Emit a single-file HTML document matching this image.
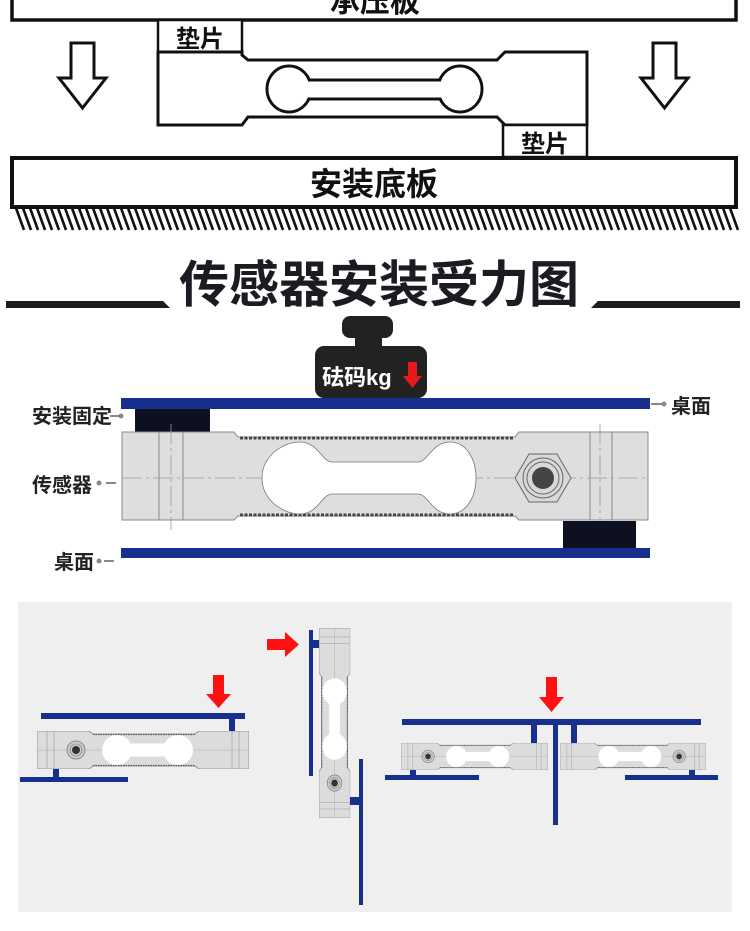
<!DOCTYPE html>
<html><head><meta charset="utf-8"><style>
html,body{margin:0;padding:0;background:#fff;width:750px;height:931px;overflow:hidden}
svg{display:block}
text{font-family:"Liberation Sans","Noto Sans CJK SC",sans-serif;font-weight:bold}
</style></head><body>
<svg width="750" height="931" viewBox="0 0 750 931" xmlns="http://www.w3.org/2000/svg">
<defs>
<symbol id="sen" viewBox="0 0 212 38" preserveAspectRatio="none">
  <path d="M0 0H52L56 3H158L162 0H212V38H162L158 35H56L52 38H0Z" fill="#dcdcdc" stroke="#888" stroke-width="0.8"/>
  <path d="M56 3.5H158M56 34.5H158" stroke="#555" stroke-width="1.2" stroke-dasharray="1.5 1"/>
  <line x1="10" y1="0" x2="10" y2="38" stroke="#999" stroke-width="0.6"/>
  <line x1="17" y1="0" x2="17" y2="38" stroke="#999" stroke-width="0.6"/>
  <line x1="195" y1="0" x2="195" y2="38" stroke="#999" stroke-width="0.6"/>
  <line x1="202" y1="0" x2="202" y2="38" stroke="#999" stroke-width="0.6"/>
  <line x1="0" y1="19" x2="212" y2="19" stroke="#aaa" stroke-width="0.5"/>
  <ellipse cx="80" cy="19" rx="15" ry="15" fill="#fff"/>
  <ellipse cx="141" cy="19" rx="15" ry="15" fill="#fff"/>
  <rect x="80" y="12.5" width="61" height="13" fill="#fff"/>
  <circle cx="39" cy="19" r="9" fill="#ccc" stroke="#777" stroke-width="0.8"/>
  <circle cx="39" cy="19" r="6" fill="none" stroke="#777" stroke-width="0.6"/>
  <circle cx="39" cy="19" r="4" fill="#333"/>
</symbol>
</defs>

<!-- TOP SECTION -->
<rect x="12" y="-10" width="724" height="30" fill="#fff" stroke="#111" stroke-width="3.5"/>
<text x="375" y="12" font-size="30" text-anchor="middle" fill="#111">承压板</text>
<rect x="158" y="20" width="84" height="32" fill="#fff" stroke="#111" stroke-width="2.5"/>
<text x="200" y="47" font-size="24" text-anchor="middle" fill="#111">垫片</text>
<path d="M158 52H242V55L248 60H497L505 52H587V125H505L497 117H248L242 125H158Z" fill="#fff" stroke="#111" stroke-width="3"/>
<g stroke="#111" stroke-width="3" fill="#fff">
<ellipse cx="289" cy="89" rx="22" ry="23"/>
<ellipse cx="460" cy="89" rx="22" ry="23"/>
<rect x="300" y="80" width="150" height="19"/>
</g>
<g fill="#fff"><ellipse cx="289" cy="89" rx="20.5" ry="21.5"/><ellipse cx="460" cy="89" rx="20.5" ry="21.5"/><rect x="295" y="81.5" width="160" height="16"/></g>
<rect x="503" y="125" width="84" height="32" fill="#fff" stroke="#111" stroke-width="2.5"/>
<text x="545" y="152" font-size="24" text-anchor="middle" fill="#111">垫片</text>
<path d="M71 43H94V78H106L82.5 108L59 78H71Z" fill="#fff" stroke="#111" stroke-width="3" stroke-linejoin="miter"/>
<path d="M653 43H676V78H688L664.5 108L641 78H653Z" fill="#fff" stroke="#111" stroke-width="3"/>
<rect x="12" y="158" width="724" height="49" fill="#fff" stroke="#111" stroke-width="4"/>
<text x="374" y="195" font-size="32" text-anchor="middle" fill="#111">安装底板</text>
<g stroke="#111" stroke-width="2.6">
<path d="M16 208l8 22M23 208l8 22M30 208l8 22M37 208l8 22M44 208l8 22M51 208l8 22M58 208l8 22M65 208l8 22M72 208l8 22M79 208l8 22M86 208l8 22M93 208l8 22M100 208l8 22M107 208l8 22M114 208l8 22M121 208l8 22M128 208l8 22M135 208l8 22M142 208l8 22M149 208l8 22M156 208l8 22M163 208l8 22M170 208l8 22M177 208l8 22M184 208l8 22M191 208l8 22M198 208l8 22M205 208l8 22M212 208l8 22M219 208l8 22M226 208l8 22M233 208l8 22M240 208l8 22M247 208l8 22M254 208l8 22M261 208l8 22M268 208l8 22M275 208l8 22M282 208l8 22M289 208l8 22M296 208l8 22M303 208l8 22M310 208l8 22M317 208l8 22M324 208l8 22M331 208l8 22M338 208l8 22M345 208l8 22M352 208l8 22M359 208l8 22M366 208l8 22M373 208l8 22M380 208l8 22M387 208l8 22M394 208l8 22M401 208l8 22M408 208l8 22M415 208l8 22M422 208l8 22M429 208l8 22M436 208l8 22M443 208l8 22M450 208l8 22M457 208l8 22M464 208l8 22M471 208l8 22M478 208l8 22M485 208l8 22M492 208l8 22M499 208l8 22M506 208l8 22M513 208l8 22M520 208l8 22M527 208l8 22M534 208l8 22M541 208l8 22M548 208l8 22M555 208l8 22M562 208l8 22M569 208l8 22M576 208l8 22M583 208l8 22M590 208l8 22M597 208l8 22M604 208l8 22M611 208l8 22M618 208l8 22M625 208l8 22M632 208l8 22M639 208l8 22M646 208l8 22M653 208l8 22M660 208l8 22M667 208l8 22M674 208l8 22M681 208l8 22M688 208l8 22M695 208l8 22M702 208l8 22M709 208l8 22M716 208l8 22M723 208l8 22M730 208l8 22"/>
</g>

<!-- TITLE -->
<path d="M6 301H163L170 308H6Z" fill="#1a1c22"/>
<path d="M598 301H740V308H591Z" fill="#1a1c22"/>
<text x="379" y="302" font-size="50" text-anchor="middle" fill="#1a1c22" font-weight="900">传感器安装受力图</text>

<!-- MIDDLE SECTION -->
<rect x="342" y="316" width="51" height="22" rx="8" fill="#222"/>
<rect x="355" y="334" width="27" height="15" fill="#222"/>
<rect x="315" y="346" width="112" height="52" rx="9" fill="#222"/>
<text x="322" y="385" font-size="22" fill="#fff">砝码kg</text>
<path d="M408 362H417V376H422L412.5 388L403 376H408Z" fill="#e8191b"/>
<rect x="121" y="398" width="529" height="11" fill="#17308e"/>
<rect x="135" y="409" width="75" height="24" fill="#0c1020"/>
<path d="M122 432H234L238 437H515L519 432H648V520H519L515 516H238L234 520H122Z" fill="#dedede" stroke="#888" stroke-width="1"/>
<path d="M240 438H514M240 515H514" stroke="#444" stroke-width="3" stroke-dasharray="3 1.5"/>
<g stroke="#888" stroke-width="1"><line x1="159" y1="432" x2="159" y2="520"/><line x1="183" y1="432" x2="183" y2="520"/><line x1="590" y1="432" x2="590" y2="520"/><line x1="612" y1="432" x2="612" y2="520"/></g>
<g stroke="#999" stroke-width="0.8" stroke-dasharray="20 4 3 4"><line x1="122" y1="478" x2="648" y2="478"/><line x1="171" y1="424" x2="171" y2="530"/><line x1="600" y1="424" x2="600" y2="530"/></g>
<path d="M300 442C318 442 322 462 332 462H418C428 462 432 442 450 442C467 442 476 460 476 478C476 496 467 514 450 514C432 514 428 494 418 494H332C322 494 318 514 300 514C283 514 262 500 262 478C262 456 283 442 300 442Z" fill="#fff" stroke="#777" stroke-width="0.8"/>
<polygon points="529,454 557,454 571,478 557,502 529,502 515,478" fill="#d8d8d8" stroke="#666" stroke-width="1"/>
<circle cx="543" cy="478" r="20" fill="none" stroke="#666" stroke-width="1"/>
<circle cx="543" cy="478" r="16" fill="none" stroke="#666" stroke-width="1"/>
<circle cx="543" cy="478" r="11" fill="#444"/>
<rect x="563" y="521" width="73" height="27" fill="#0c1020"/>
<rect x="121" y="548" width="529" height="10" fill="#17308e"/>
<g stroke="#888" stroke-width="2"><line x1="651" y1="404" x2="664" y2="404"/><line x1="120" y1="416" x2="110" y2="416"/><line x1="106" y1="483" x2="116" y2="483"/><line x1="104" y1="561" x2="114" y2="561"/></g>
<g fill="#888"><circle cx="664" cy="404" r="2.5"/><circle cx="121" cy="416" r="2.5"/><circle cx="99" cy="483" r="2.5"/><circle cx="99" cy="561" r="2.5"/></g>
<g font-size="20" fill="#222">
<text x="671" y="413">桌面</text>
<text x="32" y="423">安装固定</text>
<text x="32" y="492">传感器</text>
<text x="54" y="569">桌面</text>
</g>

<!-- BOTTOM SECTION -->
<rect x="18" y="602" width="714" height="310" fill="#efefef"/>
<rect x="41" y="713" width="204" height="6" fill="#17308e"/>
<rect x="229" y="719" width="6" height="12" fill="#17308e"/>
<use href="#sen" x="37" y="731" width="212" height="38"/>
<rect x="53" y="769" width="6" height="8" fill="#17308e"/>
<rect x="20" y="777" width="108" height="5" fill="#17308e"/>
<path d="M213 675H224V694H231L218.5 708L206 694H213Z" fill="#f11"/>

<use href="#sen" x="0" y="0" width="212" height="38" transform="translate(319,818) rotate(-90) scale(0.896,0.82)"/>
<rect x="309" y="630" width="4" height="146" fill="#17308e"/>
<rect x="313" y="640" width="6" height="8" fill="#17308e"/>
<rect x="359" y="759" width="4" height="146" fill="#17308e"/>
<rect x="350" y="797" width="9" height="8" fill="#17308e"/>
<path d="M267 639H285V632L299 644.5L285 657V650H267Z" fill="#f11"/>

<rect x="402" y="719" width="299" height="6" fill="#17308e"/>
<rect x="553" y="725" width="5" height="100" fill="#17308e"/>
<rect x="531" y="725" width="6" height="19" fill="#17308e"/>
<rect x="571" y="725" width="6" height="19" fill="#17308e"/>
<use href="#sen" x="401" y="743" width="147" height="27"/>
<use href="#sen" x="0" y="0" width="146" height="27" transform="translate(706,743) scale(-1,1)"/>
<rect x="410" y="770" width="6" height="6" fill="#17308e"/>
<rect x="689" y="770" width="6" height="6" fill="#17308e"/>
<rect x="385" y="775" width="94" height="5" fill="#17308e"/>
<rect x="625" y="775" width="93" height="5" fill="#17308e"/>
<path d="M546 677H557V697H564L551.5 712L539 697H546Z" fill="#f11"/>
</svg>
</body></html>
